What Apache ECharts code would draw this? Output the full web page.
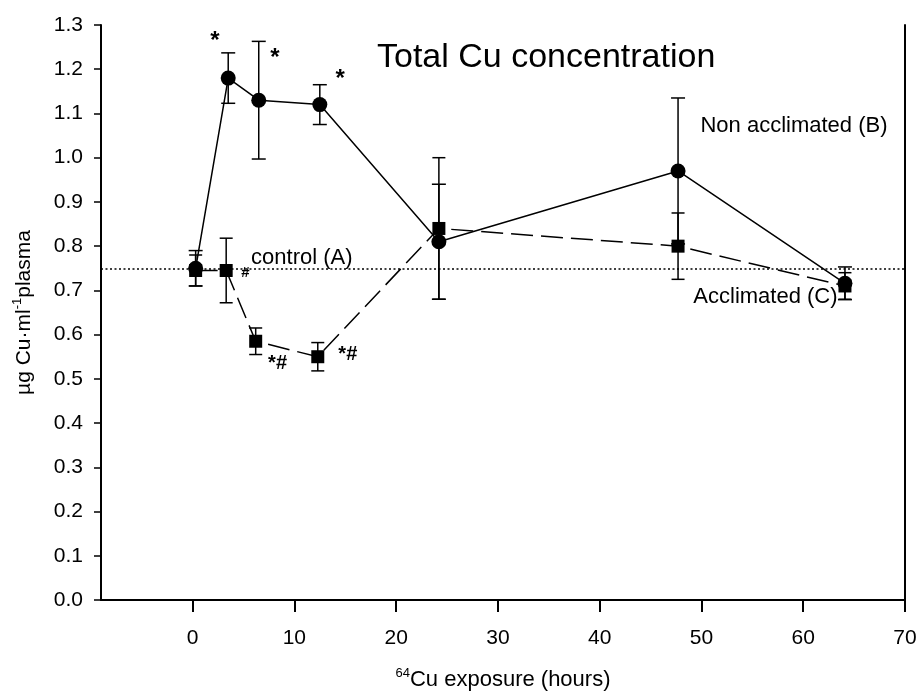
<!DOCTYPE html>
<html>
<head>
<meta charset="utf-8">
<script src="https://cdn.jsdelivr.net/npm/echarts@6/dist/echarts.min.js"></script>
<style>html,body{margin:0;padding:0;background:#fff;}#c{width:918px;height:691px;}</style>
</head>
<body>
<div id="c"></div>
<script>
// ---- data ----
const xTicks = [0, 10, 20, 30, 40, 50, 60, 70];

// Non acclimated (B) - circles, solid line
const hoursB = [0.3, 3.5, 6.5, 12.5, 24.2, 47.7, 64.1];
const meanB  = [0.75, 1.18, 1.13, 1.12, 0.81, 0.97, 0.716];
const errB   = [0.04, 0.057, 0.133, 0.045, 0.13, 0.165, 0.037];

// Acclimated (C) - squares, dashed line
const hoursC = [0.3, 3.3, 6.2, 12.3, 24.2, 47.7, 64.1];
const meanC  = [0.745, 0.745, 0.585, 0.55, 0.84, 0.80, 0.71];
const errC   = [0.035, 0.073, 0.03, 0.032, 0.16, 0.075, 0.03];

// control (A) level
const controlLevel = 0.746;

// annotations [x, y, text, fontSize, bold, align]
const annotations = [
  [2.2, 1.263, '*', 24, true, 'center'],
  [8.1, 1.224, '*', 24, true, 'center'],
  [14.5, 1.176, '*', 24, true, 'center'],
  [8.35, 0.535, '*#', 20, true, 'center'],
  [15.25, 0.555, '*#', 20, true, 'center'],
  [5.2, 0.74, '#', 15, true, 'center'],
  [5.75, 0.773, 'control (A)', 22, false, 'left'],
  [49.9, 1.071, 'Non acclimated (B)', 22, false, 'left'],
  [49.2, 0.685, 'Acclimated (C)', 22, false, 'left']
];

const FONT = '"Liberation Sans", Arial, Helvetica, sans-serif';

function zip(xs, ys) { return xs.map((x, i) => [x, ys[i]]); }
function errData(xs, ms, es) { return xs.map((x, i) => [x, ms[i] - es[i], ms[i] + es[i]]); }

function errRender(capHalf) {
  return function (params, api) {
    const x = api.value(0), lo = api.value(1), hi = api.value(2);
    const a = api.coord([x, lo]);
    const b = api.coord([x, hi]);
    const st = { stroke: '#000', lineWidth: 1.5 };
    return {
      type: 'group',
      children: [
        { type: 'line', shape: { x1: a[0], y1: a[1], x2: b[0], y2: b[1] }, style: st },
        { type: 'line', shape: { x1: a[0] - capHalf, y1: a[1], x2: a[0] + capHalf, y2: a[1] }, style: st },
        { type: 'line', shape: { x1: b[0] - capHalf, y1: b[1], x2: b[0] + capHalf, y2: b[1] }, style: st }
      ]
    };
  };
}

const chart = echarts.init(document.getElementById('c'), null, { renderer: 'canvas' });

const option = {
  backgroundColor: '#fff',
  animation: false,
  textStyle: { fontFamily: FONT, color: '#000' },
  title: {
    text: 'Total Cu concentration',
    left: 372, top: 36,
    textStyle: { fontFamily: FONT, fontSize: 34, fontWeight: 'normal', color: '#000' }
  },
  grid: { left: 101, right: 13, top: 25, bottom: 91, containLabel: false, outerBoundsMode: 'none' },
  xAxis: {
    type: 'value', min: -9, max: 70,
    name: '{sup|64}{n|Cu exposure (hours)}',
    nameLocation: 'middle', nameGap: 67,
    nameTextStyle: {
      fontFamily: FONT, color: '#000',
      rich: {
        n: { fontSize: 22, fontFamily: FONT, color: '#000', lineHeight: 24, verticalAlign: 'bottom' },
        sup: { fontSize: 13, fontFamily: FONT, color: '#000', lineHeight: 24, verticalAlign: 'top' }
      }
    },
    axisLine: { show: true, onZero: false, lineStyle: { color: '#000', width: 2 } },
    axisTick: { show: true, customValues: xTicks, length: 12, inside: false, lineStyle: { color: '#000', width: 2 } },
    axisLabel: { show: true, customValues: xTicks, margin: 28, fontSize: 21, fontFamily: FONT, color: '#000' },
    splitLine: { show: false }
  },
  yAxis: [{
    type: 'value', min: 0, max: 1.3, interval: 0.1,
    name: '{n|µg Cu·ml}{sup|-1}{n|plasma}',
    nameLocation: 'middle', nameGap: 66, nameRotate: 90,
    nameTextStyle: {
      fontFamily: FONT, color: '#000',
      rich: {
        n: { fontSize: 21, fontFamily: FONT, color: '#000', lineHeight: 24, verticalAlign: 'bottom' },
        sup: { fontSize: 13, fontFamily: FONT, color: '#000', lineHeight: 24, verticalAlign: 'top' }
      }
    },
    axisLine: { show: true, onZero: false, lineStyle: { color: '#000', width: 2 } },
    axisTick: { show: true, length: 7, inside: false, lineStyle: { color: '#000', width: 1.5 } },
    axisLabel: { show: true, margin: 18, fontSize: 21, fontFamily: FONT, color: '#000',
      formatter: v => v.toFixed(1) },
    splitLine: { show: false }
  }, {
    type: 'value', min: 0, max: 1.3, position: 'right',
    axisLine: { show: true, onZero: false, lineStyle: { color: '#000', width: 2 } },
    axisTick: { show: false }, axisLabel: { show: false }, splitLine: { show: false }
  }],
  series: [
    {
      type: 'custom', name: 'errB', renderItem: errRender(7),
      data: errData(hoursB, meanB, errB), encode: { x: 0, y: [1, 2] }, z: 2, silent: true
    },
    {
      type: 'custom', name: 'errC', renderItem: errRender(6.5),
      data: errData(hoursC, meanC, errC), encode: { x: 0, y: [1, 2] }, z: 2, silent: true
    },
    {
      type: 'line', name: 'Acclimated (C)', data: zip(hoursC, meanC),
      symbol: 'rect', symbolSize: 13, showSymbol: true,
      itemStyle: { color: '#000' },
      lineStyle: { color: '#000', width: 1.5, type: [22, 8] },
      z: 3,
      markLine: {
        silent: true, symbol: ['none', 'none'],
        label: { show: false },
        lineStyle: { color: '#000', width: 1.6, type: [2, 2.5] },
        data: [{ yAxis: controlLevel }]
      }
    },
    {
      type: 'line', name: 'Non acclimated (B)', data: zip(hoursB, meanB),
      symbol: 'circle', symbolSize: 15, showSymbol: true,
      itemStyle: { color: '#000' },
      lineStyle: { color: '#000', width: 1.5 },
      z: 4
    },
    {
      type: 'custom', name: 'annotations', z: 5, silent: true,
      data: annotations.map(a => [a[0], a[1]]),
      encode: { x: 0, y: 1 },
      renderItem: function (params, api) {
        const a = annotations[params.dataIndex];
        const p = api.coord([api.value(0), api.value(1)]);
        return {
          type: 'text', x: p[0], y: p[1],
          style: {
            text: a[2], fill: '#000',
            font: (a[4] ? 'bold ' : '') + a[3] + 'px ' + FONT,
            align: a[5], verticalAlign: 'middle'
          }
        };
      }
    }
  ]
};
chart.setOption(option);
</script>
</body>
</html>
